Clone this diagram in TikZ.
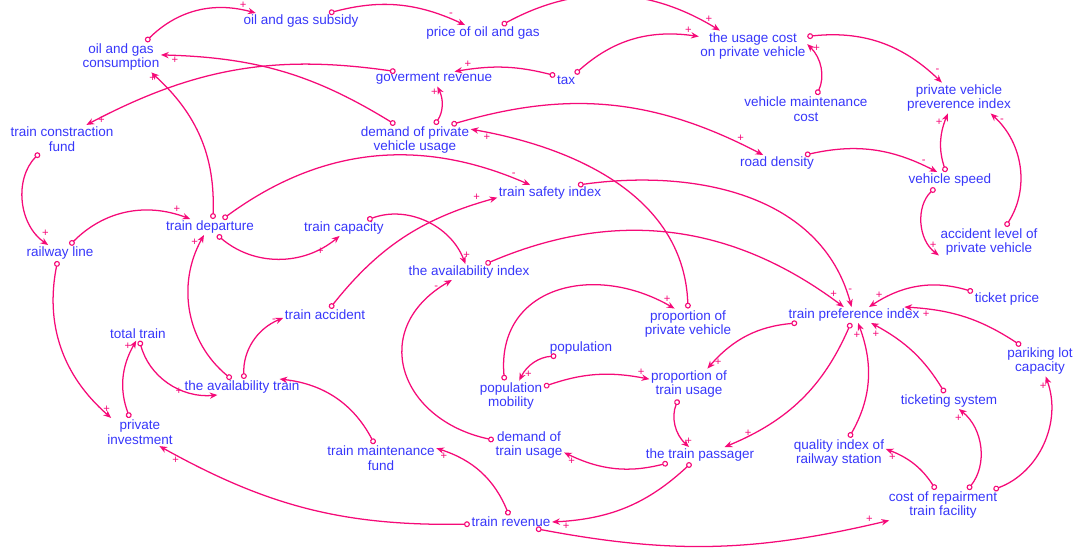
\documentclass[tikz,border=0pt]{standalone}
\usepackage{fontspec}
\setmainfont{Liberation Sans}
\usetikzlibrary{arrows.meta}
\definecolor{varc}{RGB}{55,55,250}
\definecolor{linkc}{RGB}{245,10,120}

\begin{document}
\begin{tikzpicture}[x=0.025cm,y=-0.025cm,
	var/.style={text=varc,font=\fontsize{9.6}{10.6}\selectfont,align=center,inner sep=1pt},
	lnk/.style={draw=linkc,line width=0.9pt,{Circle[open,length=4.2pt,width=4.2pt,line width=0.8pt]}-{Stealth[length=5.5pt,width=4.5pt]}},
	pol/.style={text=linkc,font=\fontsize{8}{8}\selectfont,inner sep=1pt}]
	\useasboundingbox (0,0) rectangle (1073,548);
	\node[var] (subsidy) at (301,21) {oil and gas subsidy};
	\node[var] (oilprice) at (483,33) {price of oil and gas};
	\node[var] (usagecost) at (753,46) {the usage cost\\on private vehicle};
	\node[var] (oilcons) at (121,57) {oil and gas\\consumption};
	\node[var] (govrev) at (434,79) {goverment revenue};
	\node[var] (tax) at (566,80) {tax};
	\node[var] (vmaint) at (806,109) {vehicle maintenance\\cost};
	\node[var] (pvpref) at (959,98) {private vehicle\\preverence index};
	\node[var] (tcfund) at (62,139) {train constraction\\fund};
	\node[var] (dpvusage) at (415,140) {demand of private\\vehicle usage};
	\node[var] (roaddens) at (777,163) {road density};
	\node[var] (vspeed) at (950,180) {vehicle speed};
	\node[var] (tsafety) at (550,193) {train safety index};
	\node[var] (tdepart) at (210,227) {train departure};
	\node[var] (tcapac) at (344,228) {train capacity};
	\node[var] (railline) at (60,253) {railway line};
	\node[var] (accpv) at (989,242) {accident level of\\private vehicle};
	\node[var] (avindex) at (469,272) {the availability index};
	\node[var] (taccid) at (325,315) {train accident};
	\node[var] (ticketpr) at (1007,299) {ticket price};
	\node[var] (tpref) at (854,315) {train preference index};
	\node[var] (ppvehicle) at (688,324) {proportion of\\private vehicle};
	\node[var] (totaltrain) at (138,334) {total train};
	\node[var] (popul) at (581,348) {population};
	\node[var] (parking) at (1040,361) {pariking lot\\capacity};
	\node[var] (popmob) at (511,396) {population\\mobility};
	\node[var] (ptusage) at (689,384) {proportion of\\train usage};
	\node[var] (avtrain) at (242,387) {the availability train};
	\node[var] (ticketing) at (949,401) {ticketing system};
	\node[var] (privinv) at (140,432) {private\\investment};
	\node[var] (dtusage) at (529,445) {demand of\\train usage};
	\node[var] (tmfund) at (381,458) {train maintenance\\fund};
	\node[var] (tpass) at (700,455) {the train passager};
	\node[var] (qualrs) at (839,453) {quality index of\\railway station};
	\node[var] (repair) at (943,505) {cost of repairment\\train facility};
	\node[var] (trevenue) at (511,522) {train revenue};

	\draw[lnk] (oilcons.32) to[bend left=30] node[pol,pos=.9,above]{+} (subsidy.170);
	\draw[lnk] (subsidy.16) to[bend left=20] node[pol,pos=.9,above]{-} (oilprice.156);
	\draw[lnk] (oilprice.23) to[bend left=30] node[pol,pos=.95,above]{+} (usagecost.155);
	\draw[lnk] (tax.34) to[bend left=25] node[pol,pos=.93,above]{+} (usagecost.170);
	\draw[lnk] (tax.158) to[bend right=12] node[pol,pos=.88,above]{+} (govrev.20);
	\draw[lnk] (dpvusage.38) to[bend right=30] node[pol,pos=.85,left]{+} (govrev.-66);
	\draw[lnk] (govrev.169) to[bend right=18] node[pol,pos=.97,right]{+} (tcfund.30);
	\draw[lnk] (dpvusage.142) to[bend right=15] node[pol,pos=.95,below]{+} (oilcons.3);
	\draw[lnk] (tdepart.70) to[bend right=25] node[pol,pos=.95,left]{+} (oilcons.-27);
	\draw[lnk] (dpvusage.23) to[bend left=22] node[pol,pos=.93,above]{+} (roaddens.150);
	\draw[lnk] (roaddens.16) to[bend left=20] node[pol,pos=.9,above]{-} (vspeed.148);
	\draw[lnk] (vspeed.117) to[bend left=20] node[pol,pos=.85,left]{+} (pvpref.234);
	\draw[lnk] (accpv.43) to[bend right=40] node[pol,pos=.92,right]{-} (pvpref.-26);
	\draw[lnk] (usagecost.10) to[bend left=25] node[pol,pos=.93,above right]{-} (pvpref.138);
	\draw[lnk] (vmaint.53) to[bend right=35] node[pol,pos=.9,right]{+} (usagecost.2);
	\draw[lnk] (vspeed.208) to[bend right=50] node[pol,pos=.9,above]{+} (accpv.195);
	\draw[lnk] (tcfund.212) to[bend right=50] node[pol,pos=.9,above right]{+} (railline.146);
	\draw[lnk] (railline.39) to[bend left=33] node[pol,pos=.9,above]{+} (tdepart.158);
	\draw[lnk] (railline.253) to[bend right=30] node[pol,pos=.93,right]{+} (privinv.154);
	\draw[lnk] (tdepart.-48) to[bend right=40] node[pol,pos=.88,below left]{+} (tcapac.241);
	\draw[lnk] (tcapac.19) to[bend left=45] node[pol,pos=.92,right]{+} (avindex.114);
	\draw[lnk] (tdepart.32) to[bend left=30] node[pol,pos=.95,above]{-} (tsafety.158);
	\draw[lnk] (taccid.54) to[bend left=18] node[pol,pos=.93,above left]{+} (tsafety.185);
	\draw[lnk] (avtrain.143) to[bend left=40] node[pol,pos=.95,left]{+} (tdepart.233);
	\draw[lnk] (avtrain.76) to[bend left=35] node[pol,pos=.93,left]{-} (taccid.184);
	\draw[lnk] (totaltrain.-77) to[bend right=40] node[pol,pos=.68,left]{+} (avtrain.198);
	\draw[lnk] (privinv.126) to[bend left=25] node[pol,pos=.93,left]{+} (totaltrain.255);
	\draw[lnk] (trevenue.183) to[bend left=15] node[pol,pos=.95,below]{+} (privinv.-36);
	\draw[lnk] (tmfund.115) to[bend right=28] (avtrain.12);
	\draw[lnk] (trevenue.106) to[bend right=25] node[pol,pos=.93,below]{+} (tmfund.10);
	\draw[lnk] (tpass.222) to[bend left=20] node[pol,pos=.95,below right]{+} (trevenue.0);
	\draw[lnk] (trevenue.-15) to[bend right=12] node[pol,pos=.95,above]{+} (repair.196);
	\draw[lnk] (ppvehicle.north) to[out=92,in=-10] node[pol,pos=.95,below]{+} (dpvusage.11);
	\draw[lnk] (avindex.26) to[bend left=30] node[pol,pos=.97,above]{+} (tpref.142);
	\draw[lnk] (tsafety.16) to[out=8,in=105] node[pol,pos=.95,right]{-} (tpref.107);
	\draw[lnk] (ticketpr.168) to[bend right=25] node[pol,pos=.9,above]{+} (tpref.28);
	\draw[lnk] (parking.141) to[bend right=15] node[pol,pos=.84,below]{+} (tpref.9.5);
	\draw[lnk] (tpref.188) to[bend right=22] node[pol,pos=.93,right]{+} (ptusage.40);
	\draw[lnk] (tpref.249) to[bend left=22] node[pol,pos=.9,above right]{+} (tpass.18);
	\draw[lnk] (qualrs.57) to[bend right=25] node[pol,pos=.9,left]{+} (tpref.-63);
	\draw[lnk] (ticketing.117) to[bend right=15] node[pol,pos=.9,below left]{+} (tpref.-25);
	\draw[lnk] (repair.115) to[bend right=18] node[pol,pos=.9,below]{+} (qualrs.5);
	\draw[lnk] (repair.32) to[bend right=45] node[pol,pos=.93,below left]{+} (ticketing.-39);
	\draw[lnk] (repair.17) to[bend right=45] node[pol,pos=.93,left]{+} (parking.-70);
	\draw[lnk] (popul.198) to[bend right=30] node[pol,pos=.85,right]{+} (popmob.62);
	\draw[lnk] (popmob.16) to[bend left=15] node[pol,pos=.93,above]{+} (ptusage.173);
	\draw[lnk] (popmob.113) to[out=95,in=150,looseness=1.3] node[pol,pos=.97,above]{+} (ppvehicle.131);
	\draw[lnk] (ptusage.235) to[bend right=35] node[pol,pos=.85,right]{+} (tpass.144);
	\draw[lnk] (tpass.194) to[bend left=20] node[pol,pos=.93,below]{+} (dtusage.-12.5);
	\draw[lnk] (dtusage.172) to[out=168,in=210,looseness=1.5] node[pol,pos=.95,left]{-} (avindex.205);
\end{tikzpicture}
\end{document}
